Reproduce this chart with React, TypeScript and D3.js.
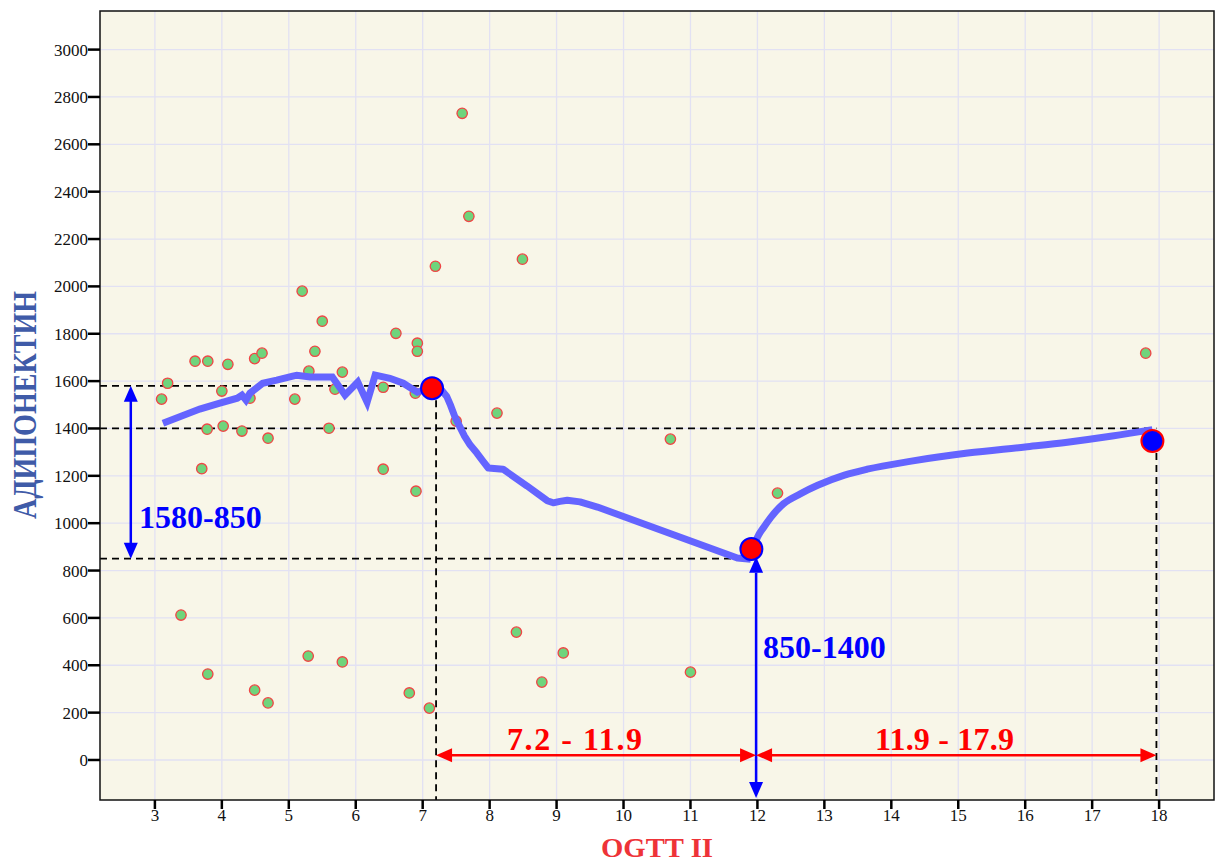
import React from "react";
import * as d3 from "d3";

const W = 1219;
const H = 863;

const xTicks = [3, 4, 5, 6, 7, 8, 9, 10, 11, 12, 13, 14, 15, 16, 17, 18];
const yTicks = [0, 200, 400, 600, 800, 1000, 1200, 1400, 1600, 1800, 2000, 2200, 2400, 2600, 2800, 3000];

const scatterX = [3.10, 3.19, 3.39, 3.60, 3.70, 3.79, 3.78, 3.79, 4.00, 4.02, 4.09, 4.30, 4.42, 4.49, 4.60, 4.49, 4.69, 4.69, 5.09, 5.20, 5.30, 5.29, 5.39, 5.50, 5.60, 5.69, 5.80, 5.80, 6.41, 6.41, 6.60, 6.80, 6.92, 6.92, 6.89, 6.90, 7.10, 7.19, 7.50, 7.59, 7.69, 8.11, 8.40, 8.49, 8.78, 9.10, 10.70, 11.00, 12.30, 17.80];
const scatterY = [1524, 1591, 612, 1684, 1230, 1684, 1397, 363, 1558, 1410, 1671, 1389, 1528, 1695, 1718, 295, 1359, 241, 1524, 1980, 1642, 439, 1726, 1853, 1401, 1566, 1638, 414, 1574, 1228, 1802, 283, 1760, 1726, 1549, 1135, 219, 2085, 1431, 2731, 2296, 1465, 540, 2115, 329, 452, 1355, 371, 1127, 1718];

// jagged part of the trend line (3.1 – 7.16)
const lineAX = [3.12, 3.67, 3.97, 4.23, 4.30, 4.36, 4.42, 4.61, 4.82, 5.06, 5.12, 5.32, 5.65, 5.84, 6.03, 6.17, 6.29, 6.51, 6.71, 6.92, 7.01, 7.16];
const lineAY = [1422, 1482, 1507, 1528, 1541, 1520, 1549, 1591, 1604, 1621, 1625, 1617, 1617, 1541, 1596, 1511, 1625, 1612, 1591, 1553, 1562, 1574];
// descent (7.16 – 11.9)
const lineBX = [7.16, 7.28, 7.36, 7.42, 7.48, 7.55, 7.62, 7.71, 7.81, 7.90, 7.98, 8.20, 8.56, 8.86, 8.95, 9.05, 9.16, 9.35, 9.61, 11.70, 11.90];
const lineBY = [1574, 1562, 1535, 1495, 1450, 1410, 1370, 1330, 1296, 1262, 1233, 1228, 1157, 1095, 1086, 1092, 1097, 1090, 1068, 853, 848];
// smooth rise (11.9 – 17.9)
const lineCX = [11.90, 11.95, 12.00, 12.10, 12.20, 12.39, 12.64, 12.90, 13.30, 13.64, 14.30, 15.14, 16.00, 16.63, 17.30, 17.90];
const lineCY = [860, 903, 940, 985, 1025, 1082, 1124, 1160, 1203, 1228, 1262, 1296, 1322, 1342, 1368, 1395];

const keyPointsX = [7.14, 11.91, 17.90];
const keyPointsY = [1570, 891, 1347];

export default function App() {
  const left = 100, right = 1214, top = 11, bottom = 800;
  const x = d3.scaleLinear().domain([2.18, 18.82]).range([left, right]);
  const y = d3.scaleLinear().domain([-169, 3163]).range([bottom, top]);

  const mk = (xs: number[], ys: number[], curve: d3.CurveFactory) =>
    d3
      .line<number>()
      .x((_, i) => x(xs[i]))
      .y((_, i) => y(ys[i]))
      .curve(curve)(xs) || "";

  const serif = "'Liberation Serif', 'Times New Roman', serif";
  const gridColor = "#e2e1f3";
  const blue = "#0000ff";
  const red = "#ff0000";

  const arrowHead = (xTip: number, yTip: number, dir: "up" | "down" | "left" | "right", color: string, len = 16, half = 7) => {
    let pts: number[][] = [];
    if (dir === "up") pts = [[xTip, yTip], [xTip - half, yTip + len], [xTip + half, yTip + len]];
    if (dir === "down") pts = [[xTip, yTip], [xTip - half, yTip - len], [xTip + half, yTip - len]];
    if (dir === "left") pts = [[xTip, yTip], [xTip + len, yTip - half], [xTip + len, yTip + half]];
    if (dir === "right") pts = [[xTip, yTip], [xTip - len, yTip - half], [xTip - len, yTip + half]];
    return <polygon points={pts.map((p) => p.join(",")).join(" ")} fill={color} />;
  };

  const arrowY = y(20);
  const xa = x(7.2), xb = x(11.98), xc = x(17.96);
  const bx = x(2.64);
  const bx2 = x(11.98);

  return (
    <svg width={W} height={H} style={{ position: "absolute", left: 0, top: 0, background: "#ffffff" }}>
      <rect x={left} y={top} width={right - left} height={bottom - top} fill="#f8f6e8" />
      {xTicks.map((t) => (
        <line key={"gx" + t} x1={x(t)} x2={x(t)} y1={top} y2={bottom} stroke={gridColor} strokeWidth={1.3} />
      ))}
      {yTicks.map((t) => (
        <line key={"gy" + t} x1={left} x2={right} y1={y(t)} y2={y(t)} stroke={gridColor} strokeWidth={1.3} />
      ))}

      {/* dashed reference lines */}
      <g stroke="#000" strokeWidth={1.8} strokeDasharray="7,5" fill="none">
        <line x1={left} x2={x(7.1)} y1={y(1580)} y2={y(1580)} />
        <line x1={left} x2={xc} y1={y(1400)} y2={y(1400)} />
        <line x1={left} x2={x(11.82)} y1={y(850)} y2={y(850)} />
        <line x1={xa} x2={xa} y1={y(1570)} y2={bottom} />
        <line x1={xc} x2={xc} y1={y(1347)} y2={bottom} />
      </g>

      {/* scatter */}
      {scatterX.map((v, i) => (
        <circle key={"s" + i} cx={x(v)} cy={y(scatterY[i])} r={5.2} fill="#6fd47c" stroke="#f04545" strokeWidth={1.3} />
      ))}

      {/* trend line */}
      <g fill="none" stroke="#6464ff" strokeWidth={7}>
        <path d={mk(lineAX, lineAY, d3.curveLinear)} strokeLinejoin="miter" />
        <path d={mk(lineBX, lineBY, d3.curveLinear)} strokeLinejoin="round" />
        <path d={mk(lineCX, lineCY, d3.curveMonotoneX)} />
      </g>

      {/* key points */}
      <circle cx={x(keyPointsX[0])} cy={y(keyPointsY[0])} r={11} fill="#ff0000" stroke="#0000ff" strokeWidth={2} />
      <circle cx={x(keyPointsX[1])} cy={y(keyPointsY[1])} r={11} fill="#ff0000" stroke="#0000ff" strokeWidth={2} />
      <circle cx={x(keyPointsX[2])} cy={y(keyPointsY[2])} r={11} fill="#0000ff" stroke="#ff0000" strokeWidth={2} />

      {/* blue vertical arrows */}
      <line x1={bx} x2={bx} y1={y(1580) + 14} y2={y(850) - 14} stroke={blue} strokeWidth={2.5} />
      {arrowHead(bx, y(1580), "up", blue)}
      {arrowHead(bx, y(850), "down", blue)}
      <line x1={bx2} x2={bx2} y1={y(850) + 14} y2={bottom - 16} stroke={blue} strokeWidth={2.5} />
      {arrowHead(bx2, y(850) - 2, "up", blue)}
      {arrowHead(bx2, bottom - 2, "down", blue)}

      {/* red horizontal arrows */}
      <line x1={xa + 14} x2={xb - 14} y1={arrowY} y2={arrowY} stroke={red} strokeWidth={2.5} />
      {arrowHead(xa, arrowY, "left", red)}
      {arrowHead(xb, arrowY, "right", red)}
      <line x1={xb + 14} x2={xc - 14} y1={arrowY} y2={arrowY} stroke={red} strokeWidth={2.5} />
      {arrowHead(xb, arrowY, "left", red)}
      {arrowHead(xc, arrowY, "right", red)}

      {/* annotation labels */}
      <text x={139} y={528} fill={blue} fontFamily={serif} fontWeight="bold" fontSize={32}>1580-850</text>
      <text x={763} y={658} fill={blue} fontFamily={serif} fontWeight="bold" fontSize={32}>850-1400</text>
      <text x={507} y={750} fill={red} fontFamily={serif} fontWeight="bold" fontSize={32} textLength={135} lengthAdjust="spacing">7.2 - 11.9</text>
      <text x={875} y={750} fill={red} fontFamily={serif} fontWeight="bold" fontSize={32} textLength={139} lengthAdjust="spacing">11.9 - 17.9</text>

      {/* frame */}
      <rect x={left} y={top} width={right - left} height={bottom - top} fill="none" stroke="#111" strokeWidth={1.5} />

      {/* axes ticks */}
      {yTicks.map((t) => (
        <g key={"ty" + t}>
          <line x1={left - 12} x2={left} y1={y(t)} y2={y(t)} stroke="#000" strokeWidth={2.5} />
          <text x={left - 12} y={y(t) + 6} textAnchor="end" fontFamily={serif} fontSize={17} fill="#111">{t}</text>
        </g>
      ))}
      {xTicks.map((t) => (
        <g key={"tx" + t}>
          <line x1={x(t)} x2={x(t)} y1={bottom} y2={bottom + 9} stroke="#000" strokeWidth={2.5} />
          <text x={x(t)} y={bottom + 21} textAnchor="middle" fontFamily={serif} fontSize={17} fill="#111">{t}</text>
        </g>
      ))}

      {/* axis titles */}
      <text
        transform={`translate(36, 405) rotate(-90)`}
        textAnchor="middle"
        fontFamily={serif}
        fontWeight="bold"
        fontSize={33}
        fill="#3f5ba8"
        textLength={228}
        lengthAdjust="spacingAndGlyphs"
      >
        АДИПОНЕКТИН
      </text>
      <text x={657} y={857} textAnchor="middle" fontFamily={serif} fontWeight="bold" fontSize={28} fill="#ee3338" textLength={112} lengthAdjust="spacingAndGlyphs">OGTT II</text>
    </svg>
  );
}
